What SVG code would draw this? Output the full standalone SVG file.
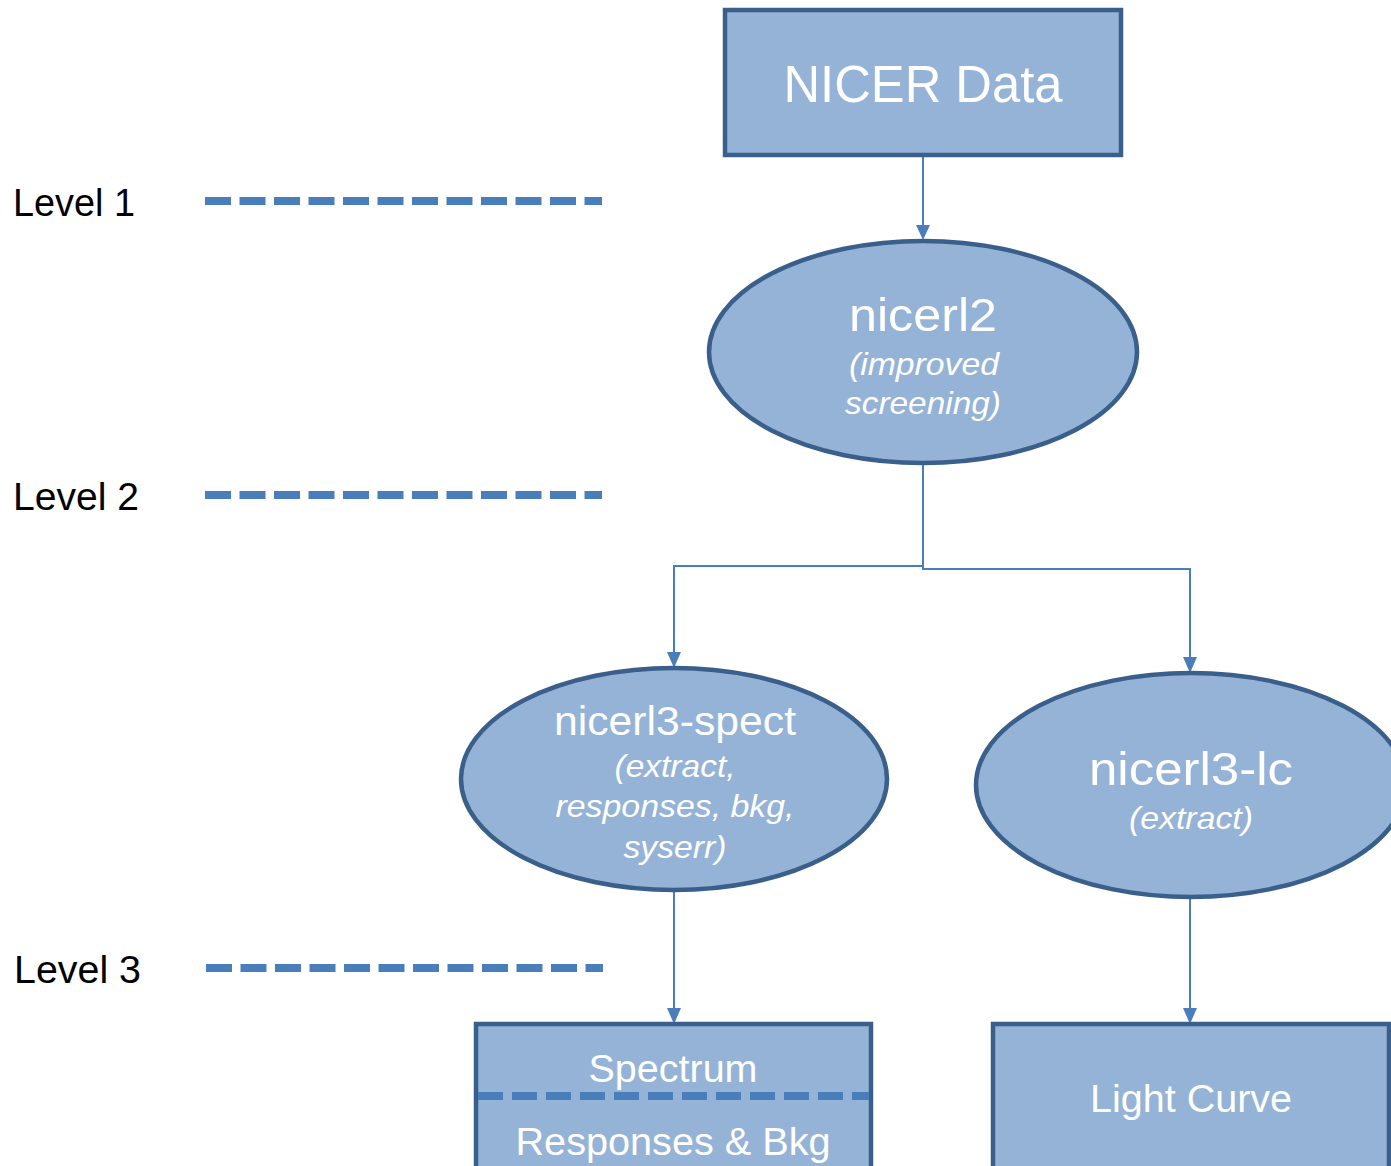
<svg xmlns="http://www.w3.org/2000/svg" width="1391" height="1166" viewBox="0 0 1391 1166">
<style>
.node{fill:#95B3D7;stroke:#3A5F8B;stroke-width:4.5}
.t{fill:#fff;font-family:"Liberation Sans",Arial,sans-serif;text-anchor:middle}
.i{font-style:italic}
.lvl{fill:#000;font-family:"Liberation Sans",Arial,sans-serif;font-size:38px}
.dash{stroke:#4A7EBB;stroke-width:8;stroke-dasharray:26 8.5;fill:none}
.conn{stroke:#4A7EBB;stroke-width:2;fill:none}
.ah{fill:#4A7EBB}
</style>
<rect width="1391" height="1166" fill="#fff"/>
<g id="levels">
<text class="lvl" x="13" y="216" textLength="122" lengthAdjust="spacingAndGlyphs">Level 1</text>
<line class="dash" x1="205" y1="201" x2="602" y2="201"/>
<text class="lvl" x="13" y="510" textLength="126" lengthAdjust="spacingAndGlyphs">Level 2</text>
<line class="dash" x1="205" y1="495" x2="602" y2="495"/>
<text class="lvl" x="14" y="983" textLength="127" lengthAdjust="spacingAndGlyphs">Level 3</text>
<line class="dash" x1="206" y1="968" x2="603" y2="968"/>
</g>
<g id="connectors">
<path class="conn" d="M923,155 V226"/>
<path class="ah" d="M916,225 L930,225 L923,240 z"/>
<path class="conn" d="M923,463 V566 H674 V653"/>
<path class="ah" d="M667,652 L681,652 L674,668 z"/>
<path class="conn" d="M923,566 V569 H1190 V658"/>
<path class="ah" d="M1183,657 L1197,657 L1190,673 z"/>
<path class="conn" d="M674,890 V1009"/>
<path class="ah" d="M667,1008 L681,1008 L674,1024 z"/>
<path class="conn" d="M1190,897 V1009"/>
<path class="ah" d="M1183,1008 L1197,1008 L1190,1024 z"/>
</g>
<g id="nicer-data">
<rect class="node" x="725" y="10" width="396" height="145"/>
<text class="t" x="923" y="102" font-size="51" textLength="279" lengthAdjust="spacingAndGlyphs">NICER Data</text>
</g>
<g id="nicerl2">
<ellipse class="node" cx="923" cy="352" rx="214" ry="111"/>
<text class="t" x="923" y="331" font-size="47" textLength="148" lengthAdjust="spacingAndGlyphs">nicerl2</text>
<text class="t i" x="924" y="375" font-size="32" textLength="150" lengthAdjust="spacingAndGlyphs">(improved</text>
<text class="t i" x="923" y="414" font-size="32" textLength="156" lengthAdjust="spacingAndGlyphs">screening)</text>
</g>
<g id="nicerl3-spect">
<ellipse class="node" cx="674" cy="779" rx="213" ry="111"/>
<text class="t" x="675" y="735" font-size="41" textLength="242" lengthAdjust="spacingAndGlyphs">nicerl3-spect</text>
<text class="t i" x="675" y="777" font-size="32" textLength="121" lengthAdjust="spacingAndGlyphs">(extract,</text>
<text class="t i" x="675" y="817" font-size="32" textLength="239" lengthAdjust="spacingAndGlyphs">responses, bkg,</text>
<text class="t i" x="675" y="858" font-size="32" textLength="103" lengthAdjust="spacingAndGlyphs">syserr)</text>
</g>
<g id="nicerl3-lc">
<ellipse class="node" cx="1191" cy="785" rx="215" ry="112"/>
<text class="t" x="1191" y="785" font-size="47" textLength="204" lengthAdjust="spacingAndGlyphs">nicerl3-lc</text>
<text class="t i" x="1191" y="829" font-size="32" textLength="124" lengthAdjust="spacingAndGlyphs">(extract)</text>
</g>
<g id="spectrum">
<rect class="node" x="476" y="1024" width="395" height="160"/>
<line class="dash" x1="478" y1="1096" x2="869" y2="1096" style="stroke-dasharray:25 9"/>
<text class="t" x="673" y="1082" font-size="38" textLength="169" lengthAdjust="spacingAndGlyphs">Spectrum</text>
<text class="t" x="673" y="1155" font-size="38" textLength="315" lengthAdjust="spacingAndGlyphs">Responses &amp; Bkg</text>
</g>
<g id="light-curve">
<rect class="node" x="993" y="1024" width="396" height="160"/>
<text class="t" x="1191" y="1112" font-size="39" textLength="202" lengthAdjust="spacingAndGlyphs">Light Curve</text>
</g>
</svg>
